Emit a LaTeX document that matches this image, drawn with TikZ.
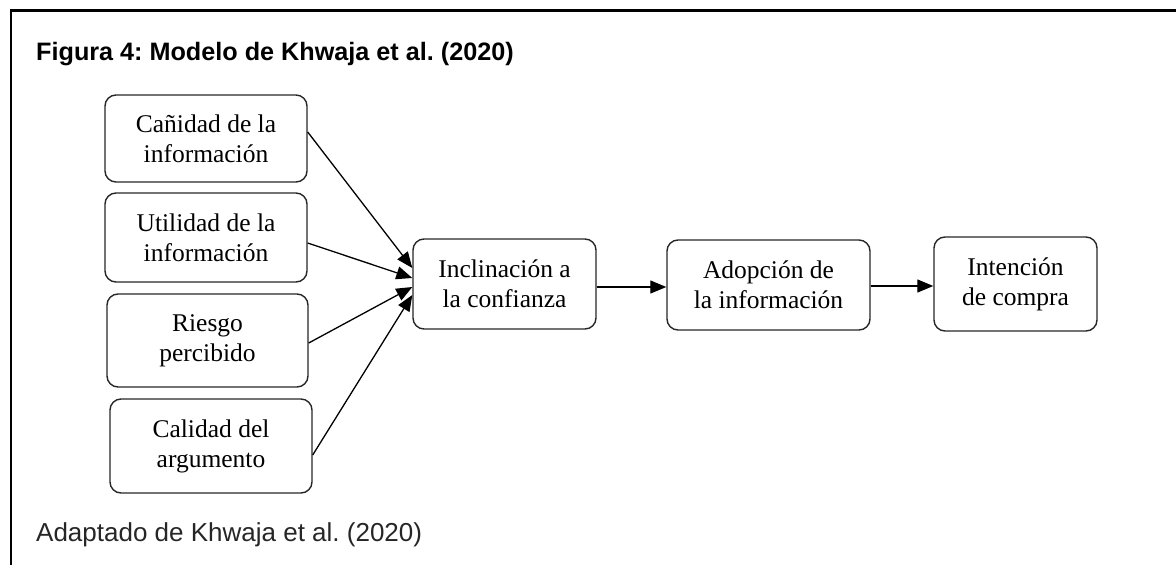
\documentclass[tikz,border=0pt]{standalone}
\usepackage{fontspec}
\setmainfont{Liberation Serif}
\newfontfamily\arialfont{Liberation Sans}
\usetikzlibrary{arrows.meta}
\frenchspacing
\tikzset{
  stage/.style={draw=black!85, line width=1.4pt, rounded corners=11pt,
    align=center, inner sep=0pt, font=\fontsize{25.5}{30}\selectfont},
  arr/.style={line width=1.3pt, -{Triangle[length=16pt,width=13pt]}},
  frame/.style={line width=2.2pt, black}
}
\begin{document}
\begin{tikzpicture}[x=1pt,y=-1pt]
\useasboundingbox (0,0) rectangle (1176,565);
% open frame (left and top edges)
\draw[frame] (11,565) -- (11,10.5) -- (1176,10.5);
% heading and source
\node[anchor=base west, inner sep=0pt, font=\arialfont\bfseries\fontsize{25.2}{30}\selectfont] (title) at (36,60) {Figura 4: Modelo de Khwaja et al. (2020)};
\node[anchor=base west, inner sep=0pt, text=black!85, font=\arialfont\fontsize{26}{30}\selectfont] (source) at (36,541) {Adaptado de Khwaja et al. (2020)};
% antecedents
\node[stage, minimum width=202pt, minimum height=87pt] (b1) at (206,138.5) {Cañidad de la\\información};
\node[stage, minimum width=202pt, minimum height=89pt] (b2) at (206,237.5) {Utilidad de la\\información};
\node[stage, minimum width=201pt, minimum height=93pt] (b3) at (207.5,340.5) {Riesgo\\percibido};
\node[stage, minimum width=202pt, minimum height=94pt] (b4) at (211,446) {Calidad del\\argumento};
% main chain
\node[stage, minimum width=183pt, minimum height=90pt] (incl) at (504.5,284) {Inclinación a\\la confianza};
\node[stage, minimum width=203pt, minimum height=90pt] (adop) at (768.5,285) {Adopción de\\la información};
\node[stage, minimum width=163pt, minimum height=94pt] (inte) at (1015.5,284) {Intención\\de compra};
% connectors
\draw[arr] ([yshift=6.5pt]b1.east) -- ([yshift=16pt]incl.west);
\draw[arr] ([yshift=-5.5pt]b2.east) -- ([yshift=6pt]incl.west);
\draw[arr] ([yshift=-2.5pt]b3.east) -- ([yshift=-3pt]incl.west);
\draw[arr] ([yshift=-9pt]b4.east) -- ([yshift=-11pt]incl.west);
\draw[arr] ([yshift=-3pt]incl.east) -- ([yshift=-3pt]incl.east -| adop.west);
\draw[arr] ([yshift=-1pt]adop.east) -- ([yshift=-1pt]adop.east -| inte.west);
\end{tikzpicture}
\end{document}
